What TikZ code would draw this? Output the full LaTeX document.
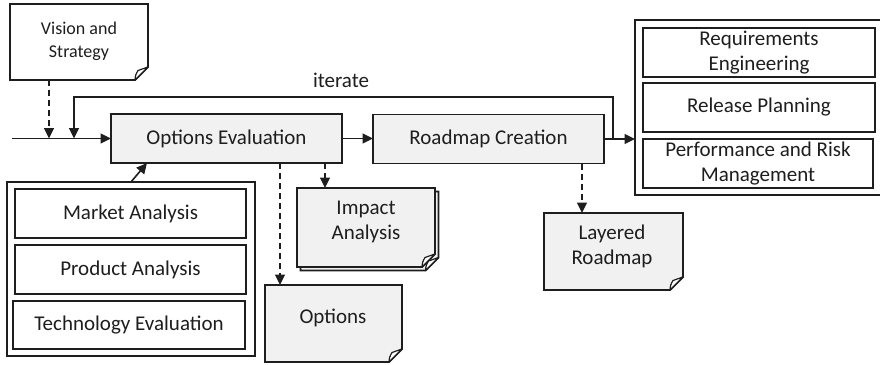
\documentclass[tikz,border=0pt]{standalone}
\usepackage{fontspec}
\setmainfont{Carlito}
\usetikzlibrary{arrows.meta,calc}
\definecolor{ink}{HTML}{1E1E1E}
\definecolor{docgray}{HTML}{F0F1F0}

\tikzset{
  base/.style={inner sep=0pt, outer sep=0pt, font=\fontsize{21}{25}\selectfont, text=ink, align=center},
  proc/.style={base, draw=ink, line width=1.9pt, fill=docgray, minimum width=231pt, minimum height=49pt},
  item/.style={base, draw=ink, line width=1.9pt, fill=white, minimum height=49pt},
  group/.style={draw=ink, line width=1.9pt, fill=white, inner sep=0pt, outer sep=0pt},
  docarea/.style={inner sep=0pt, outer sep=0pt},
  doctext/.style={base},
  outline/.style={draw=ink, line width=1.9pt, line join=miter},
  flow/.style={draw=ink, line width=1.6pt, -{Triangle[length=10.5pt,width=10pt]}},
  dflow/.style={flow, dash pattern=on 6pt off 4pt},
}

% document shape with a folded bottom-right corner, drawn round a named node
\newcommand\docoutline[4]{%
  \draw[outline, fill=#2]
    ([shift={(#3,#4)}]#1.north west) -- ([shift={(#3,#4)}]#1.north east)
    -- ([shift={(#3,#4+13)}]#1.south east) -- ([shift={(#3-13,#4)}]#1.south east)
    -- ([shift={(#3,#4)}]#1.south west) -- cycle;
  \draw[ink, line width=1.2pt, fill=white, line join=round]
    ([shift={(#3-13,#4)}]#1.south east)
    .. controls ([shift={(#3-12.5,#4+5)}]#1.south east) .. ([shift={(#3-10,#4+9.5)}]#1.south east)
    -- ([shift={(#3,#4+13)}]#1.south east) -- cycle;
}

\begin{document}
\begin{tikzpicture}[x=1pt,y=1pt]
\useasboundingbox (0,0) rectangle (880,-364);

% grouping frames
\node[group, minimum width=249pt, minimum height=175pt] (ro) at (759.5,-107.5) {};
\node[group, minimum width=248pt, minimum height=174pt] (lo) at (131,-269) {};

% activities inside the frames
\node[item, minimum width=232pt] (req)  at (759,-52.5)  {Requirements\\Engineering};
\node[item, minimum width=232pt] (rel)  at (759,-107.5) {Release Planning};
\node[item, minimum width=230pt] (perf) at (758,-163.5) {Performance and Risk\\Management};
\node[item, minimum width=231pt] (ma)   at (130.5,-213.5) {Market Analysis};
\node[item, minimum width=231pt] (pa)   at (130.5,-269.5) {Product Analysis};
\node[item, minimum width=232pt, minimum height=48pt] (te) at (129,-325) {Technology Evaluation};

% main process steps
\node[proc] (oe) at (226.5,-138.5) {Options Evaluation};
\node[proc] (rc) at (488.5,-139) {Roadmap Creation};

% documents
\node[docarea, minimum width=138pt, minimum height=76pt] (vis)  at (79,-42) {};
\node[docarea, minimum width=138pt, minimum height=79pt] (ia)   at (366,-227.5) {};
\node[docarea, minimum width=137pt, minimum height=77pt] (opts) at (333.5,-323.5) {};
\node[docarea, minimum width=139pt, minimum height=77pt] (lr)   at (613.5,-251.5) {};

\docoutline{vis}{white}{0}{0}
\docoutline{ia}{docgray}{3.5}{-3.5}
\docoutline{ia}{docgray}{0}{0}
\docoutline{opts}{docgray}{0}{0}
\docoutline{lr}{docgray}{0}{0}

\node[doctext, font=\fontsize{18}{23}\selectfont] (vis-t) at (79,-41.5) {Vision and\\Strategy};
\node[doctext] (ia-t)   at (366,-222)  {Impact\\Analysis};
\node[doctext] (opts-t) at (333,-318)  {Options};
\node[doctext] (lr-t)   at (612,-246)  {Layered\\Roadmap};

% connectors
\coordinate (src) at (12,-138.5);
\coordinate (vj)  at (49,-138.5);
\coordinate (itS) at (613,-139);
\coordinate (itT) at (74,-138.5);
\coordinate (itTop) at (0,-97);
\coordinate (dx1) at (280,0);
\coordinate (dx2) at (325,0);
\coordinate (dx3) at (582,0);

\draw[flow] (src) -- (oe.west);
\draw[dflow] (vis.south -| vj) -- (vj);
\draw[flow] (oe.east) -- (oe.east -| rc.west);
\draw[flow] (rc.east) -- (rc.east -| ro.west);
\draw[flow] (itS) -- (itS |- itTop) -| (itT);
\node[base, anchor=base west] (it) at (313,-87) {iterate};
\draw[flow] (lo.north) -- ([xshift=36pt]oe.south west);
\draw[dflow] (oe.south -| dx1) -- (opts.north -| dx1);
\draw[dflow] (oe.south -| dx2) -- (ia.north -| dx2);
\draw[dflow] (rc.south -| dx3) -- (lr.north -| dx3);
\end{tikzpicture}
\end{document}
